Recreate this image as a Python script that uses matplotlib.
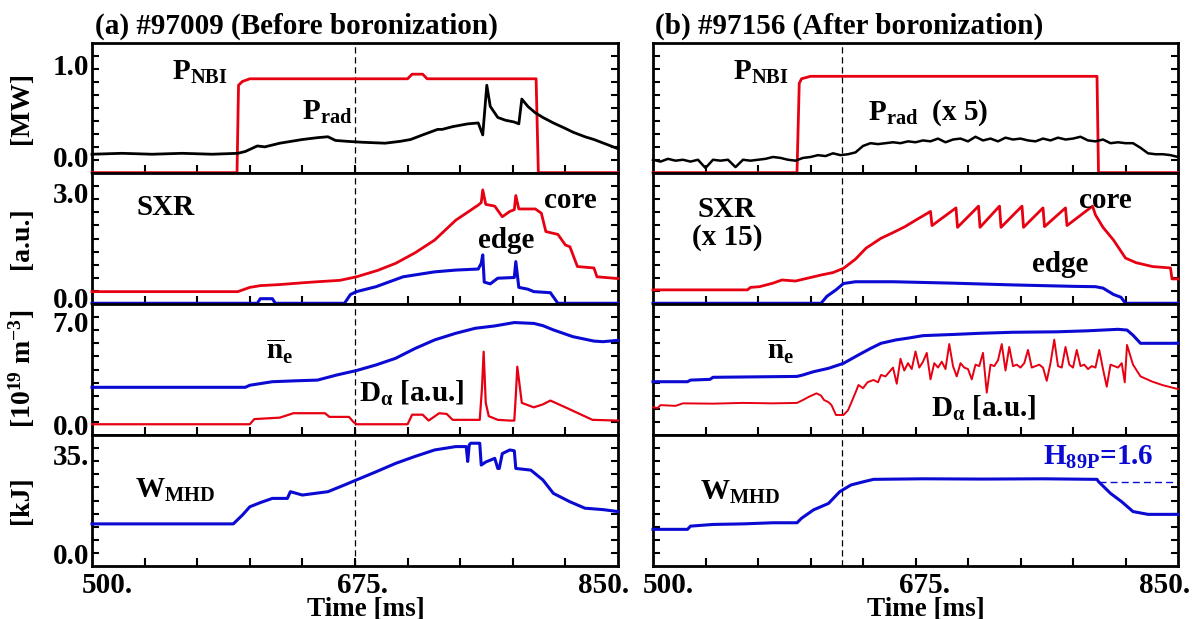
import matplotlib
matplotlib.use('Agg')
import matplotlib.pyplot as plt
import numpy as np

plt.rcParams['font.family'] = ['Liberation Serif', 'DejaVu Serif']
plt.rcParams['font.weight'] = 'bold'
plt.rcParams['mathtext.fontset'] = 'custom'
plt.rcParams['mathtext.rm'] = 'Liberation Serif:bold'
plt.rcParams['mathtext.it'] = 'Liberation Serif:bold'
plt.rcParams['mathtext.bf'] = 'Liberation Serif:bold'

RED = '#e60012'
BLUE = '#0a0ad2'

# ---- (a) #97009, before boronization ----
ta_nbi = [500, 596.5, 597.5, 600, 605, 710, 713, 720, 723, 795.5, 797, 850]
va_nbi = [-0.17, -0.17, 0.78, 0.82, 0.85, 0.85, 0.9, 0.9, 0.85, 0.85, -0.17, -0.17]

ta_prad = [500, 520, 540, 560, 580, 597, 602, 610, 615, 625, 640, 650, 657, 662, 670,
           680, 695, 705, 712, 720, 730, 733, 740, 750, 757, 760, 762.7, 765, 770, 775,
           781, 784, 786, 790, 795, 800, 807, 815, 820, 828, 834, 842, 850]
va_prad = [0.03, 0.04, 0.03, 0.04, 0.03, 0.04, 0.06, 0.12, 0.11, 0.15, 0.19, 0.21, 0.22, 0.18, 0.17,
           0.16, 0.15, 0.17, 0.19, 0.24, 0.30, 0.30, 0.33, 0.36, 0.37, 0.24, 0.78, 0.55, 0.43, 0.40,
           0.38, 0.36, 0.63, 0.55, 0.48, 0.43, 0.37, 0.31, 0.27, 0.22, 0.19, 0.14, 0.09]

ta_core = [500, 597, 605, 612, 625, 640, 650, 665, 676, 690, 702, 715, 728, 742, 757,
           759, 760, 762, 768, 773, 778, 781, 782, 784, 795, 799, 802, 810, 815, 818,
           823, 834, 836, 850]
va_core = [0.18, 0.18, 0.3, 0.35, 0.38, 0.43, 0.46, 0.5, 0.6, 0.78, 0.98, 1.28, 1.64, 2.2, 2.63,
           2.7, 3.06, 2.65, 2.6, 2.3, 2.45, 2.5, 2.9, 2.52, 2.52, 2.4, 1.88, 1.8, 1.5, 1.45,
           0.89, 0.85, 0.6, 0.55]

ta_edge = [500, 610, 612, 620, 622, 668, 672, 676, 689, 707, 728, 742, 757, 759, 760,
           761, 765, 770, 781, 782, 784, 790, 794, 805, 810, 850]
va_edge = [-0.15, -0.15, -0.02, -0.02, -0.15, -0.15, 0.1, 0.18, 0.32, 0.6, 0.74, 0.79, 0.82, 0.98, 1.22,
           0.45, 0.4, 0.56, 0.58, 1.03, 0.3, 0.25, 0.18, 0.15, -0.15, -0.15]

ta_ne = [500, 602, 605, 620, 635, 650, 663, 676, 689, 702, 715, 728, 742, 755, 768,
         781, 794, 800, 807, 820, 834, 840, 850]
va_ne = [2.56, 2.56, 2.7, 2.94, 3.0, 3.05, 3.4, 3.7, 4.08, 4.53, 5.2, 5.78, 6.23, 6.57, 6.73,
         6.96, 6.9, 6.75, 6.46, 6.0, 5.7, 5.66, 5.75]

ta_da = [500, 605, 608, 625, 634, 655, 658, 671, 674, 676, 710, 713, 720, 724, 731,
         736, 740, 758, 759.5, 760.6, 762, 764, 770, 778, 781, 782, 783, 786, 794, 800,
         805, 815, 826, 833, 850]
va_da = [0.05, 0.05, 0.4, 0.5, 0.8, 0.8, 0.55, 0.55, 0.2, 0.05, 0.05, 0.7, 0.7, 0.3, 0.8,
         0.75, 0.35, 0.35, 2.5, 4.98, 1.5, 0.6, 0.35, 0.3, 0.3, 2.0, 3.96, 1.5, 1.2, 1.4,
         1.66, 1.2, 0.68, 0.35, 0.3]

ta_w = [500, 594, 600, 605, 612, 620, 630, 632, 640, 657, 668, 676, 689, 702, 715,
        728, 742, 749, 750, 751, 752, 758, 759, 762, 768, 770, 771, 773, 778, 781,
        782, 792, 800, 807, 818, 828, 840, 850]
va_w = [10.4, 10.4, 13.5, 16.5, 18, 19.5, 19.5, 21.9, 20.7, 21.9, 24.3, 26.1, 29, 32, 34.5,
        36.8, 38, 38, 32.7, 38.6, 39.2, 39.2, 31.4, 32.5, 33.8, 30.2, 30.2, 35.5, 36.8, 36.5,
        30.2, 29.6, 26.1, 21.3, 18.3, 16, 15.5, 14.8]

# ---- (b) #97156, after boronization ----
tb_nbi = [500, 596, 597.5, 599, 605, 796, 797, 850]
vb_nbi = [-0.17, -0.17, 0.8, 0.85, 0.877, 0.877, -0.17, -0.17]

tb_prad = [500, 505, 510, 515, 520, 525, 530, 535, 540, 545,
           550, 555, 560, 565, 570, 575, 580, 585, 590, 595,
           600, 605, 610, 615, 620, 625, 630, 635, 640, 645,
           650, 655, 660, 665, 670, 675, 680, 685, 690, 695,
           700, 705, 710, 715, 720, 725, 730, 735, 740, 745,
           750, 755, 760, 765, 770, 775, 780, 785, 790, 795,
           800, 805, 810, 815, 820, 825, 830, 835, 840, 845, 850]
vb_prad = [-0.03, -0.05, -0.02, -0.04, -0.03, -0.05, -0.03, -0.12, -0.03, -0.04,
           -0.03, -0.11, -0.03, -0.04, -0.03, -0.02, 0.0, -0.01, -0.03, -0.04,
           -0.01, 0.0, 0.02, 0.01, 0.04, 0.02, 0.03, 0.05, 0.12, 0.15,
           0.14, 0.15, 0.16, 0.15, 0.17, 0.16, 0.18, 0.17, 0.2, 0.16,
           0.19, 0.2, 0.17, 0.22, 0.18, 0.2, 0.17, 0.21, 0.19, 0.2,
           0.18, 0.17, 0.2, 0.18, 0.21, 0.19, 0.2, 0.22, 0.18, 0.17,
           0.19, 0.15, 0.16, 0.15, 0.15, 0.1, 0.04, 0.03, 0.03, 0.02, 0.0]

tb_core = [500, 563, 565, 571, 580, 586, 595, 602, 612, 620, 627, 635, 642, 652, 660, 668, 675,
           685, 686, 702, 703, 717, 718, 731, 732, 746, 747, 760, 761, 775, 776, 793, 795,
           800, 807, 815, 822, 833, 845, 846, 850]
vb_core = [0.23, 0.23, 0.3, 0.32, 0.42, 0.51, 0.48, 0.55, 0.65, 0.72, 0.84, 1.1, 1.41, 1.69, 1.85, 2.02, 2.2,
           2.45, 2.05, 2.55, 2.0, 2.6, 2.0, 2.6, 2.0, 2.6, 2.0, 2.55, 2.02, 2.55, 2.05, 2.6, 2.35,
           2.0, 1.64, 1.13, 1.0, 0.89, 0.85, 0.54, 0.54]

tb_edge = [500, 612, 616, 622, 627, 635, 660, 700, 740, 780, 795, 800, 807, 812, 815, 850]
vb_edge = [-0.15, -0.15, 0.05, 0.23, 0.41, 0.46, 0.46, 0.42, 0.37, 0.33, 0.32, 0.28, 0.1, 0.02, -0.15, -0.15]

tb_ne = [500, 523, 525, 538, 540, 596, 600, 607, 617, 627, 637, 645, 652, 662, 670,
         680, 700, 718, 740, 769, 790, 810, 816, 820, 825, 850]
vb_ne = [2.94, 2.94, 3.05, 3.1, 3.24, 3.3, 3.4, 3.62, 3.85, 4.19, 4.76, 5.2, 5.55, 5.78, 5.9,
         6.07, 6.15, 6.23, 6.3, 6.33, 6.4, 6.5, 6.45, 6.1, 5.55, 5.55]

tb_da = [500, 503, 505, 515, 520, 540, 560, 580, 596, 600,
         604, 609, 612, 614, 617, 619, 621, 622, 627, 630,
         632, 635, 637, 640, 643, 647, 650, 652,
         655, 657.5, 660, 662.5, 665, 667.5, 670, 672.5, 675, 677.5,
         680, 682.5, 685, 687.5, 690, 692.5, 695, 697.5, 700, 702.5,
         705, 707.5, 710, 712.5, 715, 717.5, 720, 722.5, 725, 727.5,
         730, 732.5, 735, 737.5, 740, 742.5, 745, 747.5, 750, 752.5,
         755, 757.5, 760, 762.5, 765, 767.5, 770, 772.5, 775, 777.5,
         780, 782.5, 785, 787.5, 790, 792.5, 795, 797.5, 800, 802.5,
         805, 807.5, 810, 812.5,
         814.5, 816, 820, 825, 833, 840, 850]
vb_da = [1.2, 1.15, 1.35, 1.3, 1.47, 1.45, 1.5, 1.47, 1.5, 1.7,
         1.92, 2.15, 2.0, 1.7, 1.55, 1.35, 0.9, 0.68, 0.68, 1.0,
         1.47, 2.2, 2.72, 2.5, 2.9, 3.06, 2.9, 3.4,
         3.3, 3.6, 3.9, 2.8, 4.5, 3.7, 4.2, 3.8, 5.0, 3.9,
         4.3, 4.9, 3.1, 4.2, 3.9, 4.3, 3.8, 5.5, 4.0, 3.3,
         4.2, 3.9, 3.8, 3.1, 4.1, 4.0, 4.9, 2.2, 4.1, 4.0,
         4.4, 5.5, 3.7, 5.3, 4.0, 4.1, 3.9, 4.2, 5.1, 3.9,
         4.0, 4.1, 3.9, 3.0, 4.2, 5.8, 4.0, 3.9, 5.3, 4.1,
         3.9, 5.1, 4.0, 4.1, 3.8, 4.0, 3.9, 5.1, 3.8, 2.6,
         4.1, 4.0, 3.9, 4.2,
         2.9, 5.44, 4.1, 3.3, 2.94, 2.7, 2.44]

tb_w = [500, 523, 525, 540, 560, 580, 596, 599, 607, 617, 624.5, 632, 640, 647, 680,
        720, 760, 796, 797, 805, 812.5, 820, 830, 850]
vb_w = [8.45, 8.45, 9.6, 10.2, 10.4, 10.8, 10.8, 12.4, 15.4, 17.7, 21.9, 24.3, 25.4, 26.3, 26.5,
        26.4, 26.5, 26.3, 25.5, 21.3, 18.3, 14.8, 13.8, 13.8]

th89 = [797, 850]
vh89 = [25.5, 25.5]

t_mark = [675, 626]

# ---- layout (pixels of a 1199x619 canvas) ----
W, H = 1199, 619
fig = plt.figure(figsize=(W / 100, H / 100), dpi=100)

col_px = [(92, 618), (653, 1178)]
row_px = [(43, 173), (173, 304), (304, 435), (435, 566)]
ylims = [(-0.174, 1.239), (-0.17, 3.538), (-0.68, 8.22), (-4.64, 42.14)]
ytick_vals = [[0, 1], [0, 3], [0, 7], [0, 35]]
ytick_txt = [['0.0', '1.0'], ['0.0', '3.0'], ['0.0', '7.0'], ['0.0', '35.']]

axes = []
for c, (x0, x1) in enumerate(col_px):
    col = []
    for r, (y0, y1) in enumerate(row_px):
        ax = fig.add_axes([x0 / W, 1 - y1 / H, (x1 - x0) / W, (y1 - y0) / H])
        lo, hi = ylims[r]
        ax.set_xlim(500, 850)
        ax.set_ylim(lo, hi)
        for s in ax.spines.values():
            s.set_linewidth(2.0)
        ax.set_xticks(np.arange(535, 816, 35))
        ax.set_xticklabels([])
        ax.tick_params(axis='x', direction='in', length=6, width=1.5, bottom=True, top=False)
        ax.set_yticks(ytick_vals[r])
        ax.set_yticklabels(ytick_txt[r] if c == 0 else [])
        ax.set_yticks(np.linspace(lo, hi, 11)[1:-1], minor=True)
        ax.tick_params(axis='y', which='major', length=0, pad=2, labelsize=21)
        ax.tick_params(axis='y', which='minor', direction='in', length=5, width=1.5,
                       left=True, right=True)
        ax.axvline(t_mark[c], color='k', lw=0.9, ls=(0, (5, 3)), zorder=1)
        col.append(ax)
    axes.append(col)

a, b = axes
kw = dict(clip_on=False, zorder=3)
a[0].plot(ta_nbi, va_nbi, color=RED, lw=2.0, **kw)
a[0].plot(ta_prad, va_prad, color='k', lw=2.0, **kw)
a[1].plot(ta_core, va_core, color=RED, lw=2.0, **kw)
a[1].plot(ta_edge, va_edge, color=BLUE, lw=2.2, **kw)
a[2].plot(ta_ne, va_ne, color=BLUE, lw=2.2, **kw)
a[2].plot(ta_da, va_da, color=RED, lw=1.6, **kw)
a[3].plot(ta_w, va_w, color=BLUE, lw=2.2, **kw)

b[0].plot(tb_nbi, vb_nbi, color=RED, lw=2.0, **kw)
b[0].plot(tb_prad, vb_prad, color='k', lw=1.8, **kw)
b[1].plot(tb_core, vb_core, color=RED, lw=2.0, **kw)
b[1].plot(tb_edge, vb_edge, color=BLUE, lw=2.2, **kw)
b[2].plot(tb_ne, vb_ne, color=BLUE, lw=2.2, **kw)
b[2].plot(tb_da, vb_da, color=RED, lw=1.4, **kw)
b[3].plot(tb_w, vb_w, color=BLUE, lw=2.2, **kw)
b[3].plot(th89, vh89, color=BLUE, lw=1.0, ls=(0, (5, 3)))


def put(x, y, s, **k):
    k.setdefault('fontsize', 21)
    k.setdefault('va', 'baseline')
    fig.text(x / W, 1 - y / H, s, **k)


put(95, 34, '(a) #97009 (Before boronization)', fontsize=21)
put(655, 34, '(b) #97156 (After boronization)', fontsize=21)

for yc, s in zip([108, 238, 369, 500], ['[MW]', '[a.u.]', r'[10$^{\mathrm{19}}$ m$^{\mathrm{-3}}$]', '[kJ]']):
    put(22, yc, s, fontsize=20, rotation=90, ha='center', va='center')

for x, s in zip([107, 362, 604, 668, 924, 1165], ['500.', '675.', '850.'] * 2):
    put(x, 593, s, fontsize=21, ha='center')
put(366, 616, 'Time [ms]', fontsize=19.5, ha='center')
put(926, 616, 'Time [ms]', fontsize=19.5, ha='center')

put(172, 80, r'P$_{\mathrm{NBI}}$')
put(302, 120, r'P$_{\mathrm{rad}}$')
put(733, 80, r'P$_{\mathrm{NBI}}$')
put(868, 120, r'P$_{\mathrm{rad}}$  (x 5)')
put(137, 215, 'SXR')
put(544, 208, 'core')
put(478, 248, 'edge')
put(727, 217, 'SXR', ha='center')
put(727, 245, '(x 15)', ha='center')
put(1079, 208, 'core')
put(1032, 272, 'edge')
put(266, 360, r'$\overline{\mathrm{n}}_{\mathrm{e}}$')
put(359, 402, r'D$_{\alpha}$ [a.u.]')
put(767, 360, r'$\overline{\mathrm{n}}_{\mathrm{e}}$')
put(931, 417, r'D$_{\alpha}$ [a.u.]')
put(135, 498, r'W$_{\mathrm{MHD}}$')
put(700, 500, r'W$_{\mathrm{MHD}}$')
put(1043, 465, r'H$_{\mathrm{89P}}$=1.6', color=BLUE)

fig.savefig('out.png', dpi=100)
